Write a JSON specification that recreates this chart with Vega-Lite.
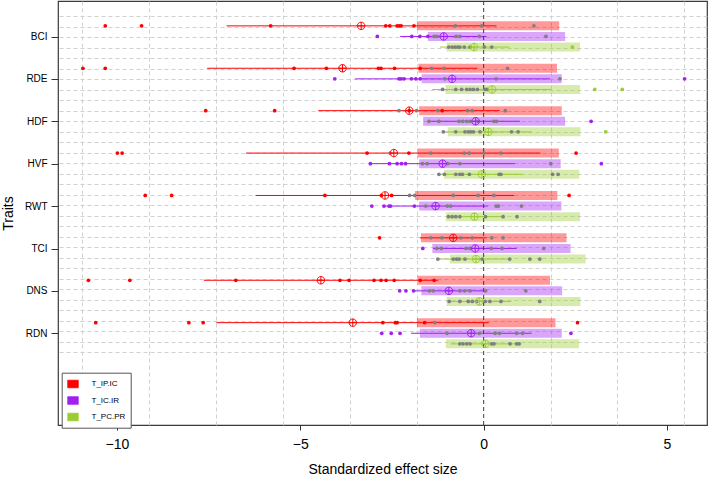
{
  "$schema": "https://vega.github.io/schema/vega-lite/v6.json",
  "width": 649,
  "height": 424,
  "autosize": {"type": "none"},
  "padding": {"left": 58, "top": 1, "right": 2, "bottom": 52},
  "background": "white",
  "config": {
    "font": "Liberation Sans",
    "view": {"stroke": "#3a3a3a", "strokeWidth": 1.2},
    "axis": {"labelColor": "#000", "titleColor": "#000", "tickColor": "#333", "labelFont": "Liberation Sans", "titleFont": "Liberation Sans", "titleFontWeight": "normal"}
  },
  "datasets": {
    "stats": [
      {"trait":"BCI","group":"T_IP.IC","blo":-1.82,"bhi":2.06,"slo":-7.01,"shi":0.35,"mean":-3.34},
      {"trait":"BCI","group":"T_IC.IR","blo":-1.52,"bhi":2.22,"slo":-2.28,"shi":0.08,"mean":-1.09},
      {"trait":"BCI","group":"T_PC.PR","blo":-1.01,"bhi":2.63,"slo":-1.19,"shi":0.70,"mean":-0.26},
      {"trait":"RDE","group":"T_IP.IC","blo":-1.78,"bhi":2.00,"slo":-7.54,"shi":-0.17,"mean":-3.85},
      {"trait":"RDE","group":"T_IC.IR","blo":-1.69,"bhi":2.13,"slo":-3.51,"shi":1.81,"mean":-0.86},
      {"trait":"RDE","group":"T_PC.PR","blo":-1.04,"bhi":2.63,"slo":-1.40,"shi":1.85,"mean":0.23},
      {"trait":"HDF","group":"T_IP.IC","blo":-1.76,"bhi":2.13,"slo":-4.51,"shi":0.44,"mean":-2.03},
      {"trait":"HDF","group":"T_IC.IR","blo":-1.65,"bhi":2.22,"slo":-1.43,"shi":0.99,"mean":-0.22},
      {"trait":"HDF","group":"T_PC.PR","blo":-0.98,"bhi":2.64,"slo":-1.05,"shi":1.31,"mean":0.13},
      {"trait":"HVF","group":"T_IP.IC","blo":-1.80,"bhi":2.05,"slo":-6.48,"shi":1.55,"mean":-2.45},
      {"trait":"HVF","group":"T_IC.IR","blo":-1.76,"bhi":2.10,"slo":-3.09,"shi":0.85,"mean":-1.12},
      {"trait":"HVF","group":"T_PC.PR","blo":-1.08,"bhi":2.61,"slo":-1.16,"shi":1.06,"mean":-0.05},
      {"trait":"RWT","group":"T_IP.IC","blo":-1.87,"bhi":2.01,"slo":-6.22,"shi":0.83,"mean":-2.69},
      {"trait":"RWT","group":"T_IC.IR","blo":-1.76,"bhi":2.12,"slo":-2.70,"shi":0.11,"mean":-1.31},
      {"trait":"RWT","group":"T_PC.PR","blo":-1.03,"bhi":2.63,"slo":-1.00,"shi":0.53,"mean":-0.25},
      {"trait":"TCI","group":"T_IP.IC","blo":-1.71,"bhi":2.26,"slo":-1.74,"shi":0.08,"mean":-0.83},
      {"trait":"TCI","group":"T_IC.IR","blo":-1.40,"bhi":2.37,"slo":-1.38,"shi":0.90,"mean":-0.23},
      {"trait":"TCI","group":"T_PC.PR","blo":-0.92,"bhi":2.78,"slo":-1.25,"shi":0.70,"mean":-0.21},
      {"trait":"DNS","group":"T_IP.IC","blo":-1.80,"bhi":1.81,"slo":-7.63,"shi":-1.24,"mean":-4.44},
      {"trait":"DNS","group":"T_IC.IR","blo":-1.70,"bhi":2.14,"slo":-1.95,"shi":0.10,"mean":-0.95},
      {"trait":"DNS","group":"T_PC.PR","blo":-1.01,"bhi":2.64,"slo":-0.95,"shi":0.75,"mean":-0.12},
      {"trait":"RDN","group":"T_IP.IC","blo":-1.82,"bhi":1.96,"slo":-7.29,"shi":0.14,"mean":-3.57},
      {"trait":"RDN","group":"T_IC.IR","blo":-1.74,"bhi":2.13,"slo":-1.98,"shi":1.31,"mean":-0.34},
      {"trait":"RDN","group":"T_PC.PR","blo":-1.03,"bhi":2.60,"slo":-0.90,"shi":0.99,"mean":0.05}
    ],
    "pts": [
      {"trait":"BCI","group":"T_IP.IC","value":-10.32,"sig":1},
      {"trait":"BCI","group":"T_IP.IC","value":-9.33,"sig":1},
      {"trait":"BCI","group":"T_IP.IC","value":-5.81,"sig":1},
      {"trait":"BCI","group":"T_IP.IC","value":-2.67,"sig":1},
      {"trait":"BCI","group":"T_IP.IC","value":-2.56,"sig":1},
      {"trait":"BCI","group":"T_IP.IC","value":-2.36,"sig":1},
      {"trait":"BCI","group":"T_IP.IC","value":-2.30,"sig":1},
      {"trait":"BCI","group":"T_IP.IC","value":-2.25,"sig":1},
      {"trait":"BCI","group":"T_IP.IC","value":-1.90,"sig":1},
      {"trait":"BCI","group":"T_IP.IC","value":-0.77,"sig":0},
      {"trait":"BCI","group":"T_IP.IC","value":-0.05,"sig":0},
      {"trait":"BCI","group":"T_IP.IC","value":1.37,"sig":0},
      {"trait":"BCI","group":"T_IC.IR","value":-2.90,"sig":1},
      {"trait":"BCI","group":"T_IC.IR","value":-1.96,"sig":1},
      {"trait":"BCI","group":"T_IC.IR","value":-1.74,"sig":1},
      {"trait":"BCI","group":"T_IC.IR","value":-1.52,"sig":1},
      {"trait":"BCI","group":"T_IC.IR","value":-1.35,"sig":0},
      {"trait":"BCI","group":"T_IC.IR","value":-1.27,"sig":0},
      {"trait":"BCI","group":"T_IC.IR","value":-0.75,"sig":0},
      {"trait":"BCI","group":"T_IC.IR","value":-0.65,"sig":0},
      {"trait":"BCI","group":"T_IC.IR","value":-0.12,"sig":0},
      {"trait":"BCI","group":"T_IC.IR","value":1.70,"sig":0},
      {"trait":"BCI","group":"T_PC.PR","value":-0.95,"sig":0},
      {"trait":"BCI","group":"T_PC.PR","value":-0.86,"sig":0},
      {"trait":"BCI","group":"T_PC.PR","value":-0.78,"sig":0},
      {"trait":"BCI","group":"T_PC.PR","value":-0.71,"sig":0},
      {"trait":"BCI","group":"T_PC.PR","value":-0.65,"sig":0},
      {"trait":"BCI","group":"T_PC.PR","value":-0.53,"sig":0},
      {"trait":"BCI","group":"T_PC.PR","value":-0.37,"sig":0},
      {"trait":"BCI","group":"T_PC.PR","value":0.02,"sig":0},
      {"trait":"BCI","group":"T_PC.PR","value":0.22,"sig":0},
      {"trait":"BCI","group":"T_PC.PR","value":2.42,"sig":1},
      {"trait":"RDE","group":"T_IP.IC","value":-10.93,"sig":1},
      {"trait":"RDE","group":"T_IP.IC","value":-10.32,"sig":1},
      {"trait":"RDE","group":"T_IP.IC","value":-5.17,"sig":1},
      {"trait":"RDE","group":"T_IP.IC","value":-4.29,"sig":1},
      {"trait":"RDE","group":"T_IP.IC","value":-2.87,"sig":1},
      {"trait":"RDE","group":"T_IP.IC","value":-2.80,"sig":1},
      {"trait":"RDE","group":"T_IP.IC","value":-2.43,"sig":1},
      {"trait":"RDE","group":"T_IP.IC","value":-1.73,"sig":1},
      {"trait":"RDE","group":"T_IP.IC","value":-1.42,"sig":0},
      {"trait":"RDE","group":"T_IP.IC","value":-1.08,"sig":0},
      {"trait":"RDE","group":"T_IP.IC","value":0.65,"sig":0},
      {"trait":"RDE","group":"T_IC.IR","value":-4.06,"sig":1},
      {"trait":"RDE","group":"T_IC.IR","value":-2.31,"sig":1},
      {"trait":"RDE","group":"T_IC.IR","value":-2.25,"sig":1},
      {"trait":"RDE","group":"T_IC.IR","value":-2.17,"sig":1},
      {"trait":"RDE","group":"T_IC.IR","value":-1.97,"sig":1},
      {"trait":"RDE","group":"T_IC.IR","value":-1.85,"sig":1},
      {"trait":"RDE","group":"T_IC.IR","value":-1.73,"sig":1},
      {"trait":"RDE","group":"T_IC.IR","value":5.48,"sig":1},
      {"trait":"RDE","group":"T_IC.IR","value":-1.06,"sig":0},
      {"trait":"RDE","group":"T_IC.IR","value":0.34,"sig":0},
      {"trait":"RDE","group":"T_IC.IR","value":2.08,"sig":0},
      {"trait":"RDE","group":"T_PC.PR","value":-1.12,"sig":0},
      {"trait":"RDE","group":"T_PC.PR","value":-0.76,"sig":0},
      {"trait":"RDE","group":"T_PC.PR","value":-0.60,"sig":0},
      {"trait":"RDE","group":"T_PC.PR","value":-0.46,"sig":0},
      {"trait":"RDE","group":"T_PC.PR","value":-0.37,"sig":0},
      {"trait":"RDE","group":"T_PC.PR","value":-0.28,"sig":0},
      {"trait":"RDE","group":"T_PC.PR","value":-0.17,"sig":0},
      {"trait":"RDE","group":"T_PC.PR","value":0.04,"sig":0},
      {"trait":"RDE","group":"T_PC.PR","value":0.10,"sig":0},
      {"trait":"RDE","group":"T_PC.PR","value":3.03,"sig":1},
      {"trait":"RDE","group":"T_PC.PR","value":3.78,"sig":1},
      {"trait":"HDF","group":"T_IP.IC","value":-7.58,"sig":1},
      {"trait":"HDF","group":"T_IP.IC","value":-5.70,"sig":1},
      {"trait":"HDF","group":"T_IP.IC","value":-2.03,"sig":1},
      {"trait":"HDF","group":"T_IP.IC","value":-1.13,"sig":1},
      {"trait":"HDF","group":"T_IP.IC","value":-2.31,"sig":0},
      {"trait":"HDF","group":"T_IP.IC","value":-1.83,"sig":0},
      {"trait":"HDF","group":"T_IP.IC","value":-1.25,"sig":0},
      {"trait":"HDF","group":"T_IP.IC","value":-0.44,"sig":0},
      {"trait":"HDF","group":"T_IP.IC","value":-0.31,"sig":0},
      {"trait":"HDF","group":"T_IP.IC","value":0.59,"sig":0},
      {"trait":"HDF","group":"T_IC.IR","value":-1.49,"sig":0},
      {"trait":"HDF","group":"T_IC.IR","value":-1.22,"sig":0},
      {"trait":"HDF","group":"T_IC.IR","value":-0.67,"sig":0},
      {"trait":"HDF","group":"T_IC.IR","value":-0.57,"sig":0},
      {"trait":"HDF","group":"T_IC.IR","value":-0.46,"sig":0},
      {"trait":"HDF","group":"T_IC.IR","value":-0.37,"sig":0},
      {"trait":"HDF","group":"T_IC.IR","value":-0.15,"sig":0},
      {"trait":"HDF","group":"T_IC.IR","value":0.28,"sig":0},
      {"trait":"HDF","group":"T_IC.IR","value":0.35,"sig":0},
      {"trait":"HDF","group":"T_IC.IR","value":2.93,"sig":1},
      {"trait":"HDF","group":"T_PC.PR","value":-1.10,"sig":0},
      {"trait":"HDF","group":"T_PC.PR","value":-0.76,"sig":0},
      {"trait":"HDF","group":"T_PC.PR","value":-0.51,"sig":0},
      {"trait":"HDF","group":"T_PC.PR","value":-0.42,"sig":0},
      {"trait":"HDF","group":"T_PC.PR","value":-0.35,"sig":0},
      {"trait":"HDF","group":"T_PC.PR","value":-0.28,"sig":0},
      {"trait":"HDF","group":"T_PC.PR","value":-0.10,"sig":0},
      {"trait":"HDF","group":"T_PC.PR","value":0.76,"sig":0},
      {"trait":"HDF","group":"T_PC.PR","value":0.94,"sig":0},
      {"trait":"HDF","group":"T_PC.PR","value":3.33,"sig":1},
      {"trait":"HVF","group":"T_IP.IC","value":-9.99,"sig":1},
      {"trait":"HVF","group":"T_IP.IC","value":-9.86,"sig":1},
      {"trait":"HVF","group":"T_IP.IC","value":-3.18,"sig":1},
      {"trait":"HVF","group":"T_IP.IC","value":-2.04,"sig":1},
      {"trait":"HVF","group":"T_IP.IC","value":2.52,"sig":1},
      {"trait":"HVF","group":"T_IP.IC","value":-2.55,"sig":0},
      {"trait":"HVF","group":"T_IP.IC","value":-1.44,"sig":0},
      {"trait":"HVF","group":"T_IP.IC","value":-0.53,"sig":0},
      {"trait":"HVF","group":"T_IP.IC","value":-0.39,"sig":0},
      {"trait":"HVF","group":"T_IP.IC","value":0.01,"sig":0},
      {"trait":"HVF","group":"T_IP.IC","value":0.47,"sig":0},
      {"trait":"HVF","group":"T_IC.IR","value":-3.09,"sig":1},
      {"trait":"HVF","group":"T_IC.IR","value":-2.57,"sig":1},
      {"trait":"HVF","group":"T_IC.IR","value":-2.36,"sig":1},
      {"trait":"HVF","group":"T_IC.IR","value":-2.24,"sig":1},
      {"trait":"HVF","group":"T_IC.IR","value":-2.13,"sig":1},
      {"trait":"HVF","group":"T_IC.IR","value":3.21,"sig":1},
      {"trait":"HVF","group":"T_IC.IR","value":-1.67,"sig":0},
      {"trait":"HVF","group":"T_IC.IR","value":-1.54,"sig":0},
      {"trait":"HVF","group":"T_IC.IR","value":-0.98,"sig":0},
      {"trait":"HVF","group":"T_IC.IR","value":-0.65,"sig":0},
      {"trait":"HVF","group":"T_IC.IR","value":1.83,"sig":0},
      {"trait":"HVF","group":"T_PC.PR","value":-1.22,"sig":0},
      {"trait":"HVF","group":"T_PC.PR","value":-1.07,"sig":0},
      {"trait":"HVF","group":"T_PC.PR","value":-0.76,"sig":0},
      {"trait":"HVF","group":"T_PC.PR","value":-0.65,"sig":0},
      {"trait":"HVF","group":"T_PC.PR","value":-0.58,"sig":0},
      {"trait":"HVF","group":"T_PC.PR","value":-0.39,"sig":0},
      {"trait":"HVF","group":"T_PC.PR","value":0.42,"sig":0},
      {"trait":"HVF","group":"T_PC.PR","value":0.47,"sig":0},
      {"trait":"HVF","group":"T_PC.PR","value":1.88,"sig":0},
      {"trait":"HVF","group":"T_PC.PR","value":2.03,"sig":0},
      {"trait":"RWT","group":"T_IP.IC","value":-9.23,"sig":1},
      {"trait":"RWT","group":"T_IP.IC","value":-8.51,"sig":1},
      {"trait":"RWT","group":"T_IP.IC","value":-4.33,"sig":1},
      {"trait":"RWT","group":"T_IP.IC","value":-2.79,"sig":1},
      {"trait":"RWT","group":"T_IP.IC","value":-2.51,"sig":1},
      {"trait":"RWT","group":"T_IP.IC","value":2.33,"sig":1},
      {"trait":"RWT","group":"T_IP.IC","value":-2.02,"sig":0},
      {"trait":"RWT","group":"T_IP.IC","value":-1.88,"sig":0},
      {"trait":"RWT","group":"T_IP.IC","value":-0.83,"sig":0},
      {"trait":"RWT","group":"T_IP.IC","value":-0.15,"sig":0},
      {"trait":"RWT","group":"T_IP.IC","value":0.28,"sig":0},
      {"trait":"RWT","group":"T_IC.IR","value":-3.05,"sig":1},
      {"trait":"RWT","group":"T_IC.IR","value":-2.72,"sig":1},
      {"trait":"RWT","group":"T_IC.IR","value":-2.58,"sig":1},
      {"trait":"RWT","group":"T_IC.IR","value":-2.54,"sig":1},
      {"trait":"RWT","group":"T_IC.IR","value":-1.89,"sig":1},
      {"trait":"RWT","group":"T_IC.IR","value":-1.58,"sig":0},
      {"trait":"RWT","group":"T_IC.IR","value":-0.99,"sig":0},
      {"trait":"RWT","group":"T_IC.IR","value":-0.90,"sig":0},
      {"trait":"RWT","group":"T_IC.IR","value":0.34,"sig":0},
      {"trait":"RWT","group":"T_IC.IR","value":0.40,"sig":0},
      {"trait":"RWT","group":"T_IC.IR","value":1.03,"sig":0},
      {"trait":"RWT","group":"T_PC.PR","value":-0.96,"sig":0},
      {"trait":"RWT","group":"T_PC.PR","value":-0.86,"sig":0},
      {"trait":"RWT","group":"T_PC.PR","value":-0.76,"sig":0},
      {"trait":"RWT","group":"T_PC.PR","value":-0.65,"sig":0},
      {"trait":"RWT","group":"T_PC.PR","value":0.05,"sig":0},
      {"trait":"RWT","group":"T_PC.PR","value":0.53,"sig":0},
      {"trait":"RWT","group":"T_PC.PR","value":0.91,"sig":0},
      {"trait":"TCI","group":"T_IP.IC","value":-2.84,"sig":1},
      {"trait":"TCI","group":"T_IP.IC","value":-1.44,"sig":0},
      {"trait":"TCI","group":"T_IP.IC","value":-1.14,"sig":0},
      {"trait":"TCI","group":"T_IP.IC","value":-0.62,"sig":0},
      {"trait":"TCI","group":"T_IP.IC","value":-0.31,"sig":0},
      {"trait":"TCI","group":"T_IP.IC","value":0.22,"sig":0},
      {"trait":"TCI","group":"T_IP.IC","value":0.53,"sig":0},
      {"trait":"TCI","group":"T_IC.IR","value":-1.66,"sig":1},
      {"trait":"TCI","group":"T_IC.IR","value":-1.28,"sig":0},
      {"trait":"TCI","group":"T_IC.IR","value":-1.15,"sig":0},
      {"trait":"TCI","group":"T_IC.IR","value":-0.48,"sig":0},
      {"trait":"TCI","group":"T_IC.IR","value":-0.37,"sig":0},
      {"trait":"TCI","group":"T_IC.IR","value":0.21,"sig":0},
      {"trait":"TCI","group":"T_IC.IR","value":0.50,"sig":0},
      {"trait":"TCI","group":"T_IC.IR","value":1.64,"sig":0},
      {"trait":"TCI","group":"T_PC.PR","value":-1.25,"sig":0},
      {"trait":"TCI","group":"T_PC.PR","value":-0.83,"sig":0},
      {"trait":"TCI","group":"T_PC.PR","value":-0.74,"sig":0},
      {"trait":"TCI","group":"T_PC.PR","value":-0.67,"sig":0},
      {"trait":"TCI","group":"T_PC.PR","value":-0.51,"sig":0},
      {"trait":"TCI","group":"T_PC.PR","value":-0.04,"sig":0},
      {"trait":"TCI","group":"T_PC.PR","value":0.71,"sig":0},
      {"trait":"TCI","group":"T_PC.PR","value":1.26,"sig":0},
      {"trait":"TCI","group":"T_PC.PR","value":1.53,"sig":0},
      {"trait":"DNS","group":"T_IP.IC","value":-10.78,"sig":1},
      {"trait":"DNS","group":"T_IP.IC","value":-9.65,"sig":1},
      {"trait":"DNS","group":"T_IP.IC","value":-6.76,"sig":1},
      {"trait":"DNS","group":"T_IP.IC","value":-3.92,"sig":1},
      {"trait":"DNS","group":"T_IP.IC","value":-3.67,"sig":1},
      {"trait":"DNS","group":"T_IP.IC","value":-2.99,"sig":1},
      {"trait":"DNS","group":"T_IP.IC","value":-2.80,"sig":1},
      {"trait":"DNS","group":"T_IP.IC","value":-2.66,"sig":1},
      {"trait":"DNS","group":"T_IP.IC","value":-2.44,"sig":1},
      {"trait":"DNS","group":"T_IP.IC","value":-1.73,"sig":1},
      {"trait":"DNS","group":"T_IP.IC","value":-1.35,"sig":1},
      {"trait":"DNS","group":"T_IC.IR","value":-2.29,"sig":1},
      {"trait":"DNS","group":"T_IC.IR","value":-2.12,"sig":1},
      {"trait":"DNS","group":"T_IC.IR","value":-1.91,"sig":1},
      {"trait":"DNS","group":"T_IC.IR","value":-1.48,"sig":0},
      {"trait":"DNS","group":"T_IC.IR","value":-1.37,"sig":0},
      {"trait":"DNS","group":"T_IC.IR","value":-0.65,"sig":0},
      {"trait":"DNS","group":"T_IC.IR","value":-0.52,"sig":0},
      {"trait":"DNS","group":"T_IC.IR","value":-0.37,"sig":0},
      {"trait":"DNS","group":"T_IC.IR","value":0.05,"sig":0},
      {"trait":"DNS","group":"T_IC.IR","value":1.15,"sig":0},
      {"trait":"DNS","group":"T_PC.PR","value":-0.94,"sig":0},
      {"trait":"DNS","group":"T_PC.PR","value":-0.65,"sig":0},
      {"trait":"DNS","group":"T_PC.PR","value":-0.42,"sig":0},
      {"trait":"DNS","group":"T_PC.PR","value":-0.31,"sig":0},
      {"trait":"DNS","group":"T_PC.PR","value":-0.19,"sig":0},
      {"trait":"DNS","group":"T_PC.PR","value":0.04,"sig":0},
      {"trait":"DNS","group":"T_PC.PR","value":0.17,"sig":0},
      {"trait":"DNS","group":"T_PC.PR","value":0.47,"sig":0},
      {"trait":"DNS","group":"T_PC.PR","value":1.53,"sig":0},
      {"trait":"RDN","group":"T_IP.IC","value":-10.58,"sig":1},
      {"trait":"RDN","group":"T_IP.IC","value":-8.04,"sig":1},
      {"trait":"RDN","group":"T_IP.IC","value":-7.65,"sig":1},
      {"trait":"RDN","group":"T_IP.IC","value":-2.75,"sig":1},
      {"trait":"RDN","group":"T_IP.IC","value":-2.41,"sig":1},
      {"trait":"RDN","group":"T_IP.IC","value":-2.36,"sig":1},
      {"trait":"RDN","group":"T_IP.IC","value":-1.61,"sig":1},
      {"trait":"RDN","group":"T_IP.IC","value":2.56,"sig":1},
      {"trait":"RDN","group":"T_IP.IC","value":-1.33,"sig":0},
      {"trait":"RDN","group":"T_IC.IR","value":-2.78,"sig":1},
      {"trait":"RDN","group":"T_IC.IR","value":-2.52,"sig":1},
      {"trait":"RDN","group":"T_IC.IR","value":-2.28,"sig":1},
      {"trait":"RDN","group":"T_IC.IR","value":2.38,"sig":1},
      {"trait":"RDN","group":"T_IC.IR","value":-1.00,"sig":0},
      {"trait":"RDN","group":"T_IC.IR","value":-0.12,"sig":0},
      {"trait":"RDN","group":"T_IC.IR","value":0.31,"sig":0},
      {"trait":"RDN","group":"T_IC.IR","value":0.43,"sig":0},
      {"trait":"RDN","group":"T_IC.IR","value":0.90,"sig":0},
      {"trait":"RDN","group":"T_IC.IR","value":1.06,"sig":0},
      {"trait":"RDN","group":"T_PC.PR","value":-0.65,"sig":0},
      {"trait":"RDN","group":"T_PC.PR","value":-0.56,"sig":0},
      {"trait":"RDN","group":"T_PC.PR","value":-0.46,"sig":0},
      {"trait":"RDN","group":"T_PC.PR","value":-0.37,"sig":0},
      {"trait":"RDN","group":"T_PC.PR","value":0.22,"sig":0},
      {"trait":"RDN","group":"T_PC.PR","value":0.28,"sig":0},
      {"trait":"RDN","group":"T_PC.PR","value":0.72,"sig":0},
      {"trait":"RDN","group":"T_PC.PR","value":0.90,"sig":0},
      {"trait":"RDN","group":"T_PC.PR","value":0.97,"sig":0}
    ]
  },
  "layer": [
    {
      "data": {"values": [{}]},
      "mark": {"type": "point", "opacity": 0},
      "encoding": {
        "x": {"datum": 0, "type": "quantitative",
          "scale": {"domain": [-11.609, 6.091], "nice": false, "zero": false},
          "axis": {"orient": "top", "values": [-10.946, -9.121, -7.297, -5.473, -3.649, -1.824, 1.824, 3.649, 5.473], "grid": true, "gridColor": "#cccccc", "gridDash": [4, 3], "gridWidth": 0.9, "labels": false, "ticks": false, "domain": false, "title": null}},
        "y": {"datum": 0, "type": "quantitative",
          "scale": {"domain": [-1.427, 38.915], "reverse": true, "nice": false, "zero": false},
          "axis": {"orient": "right", "values": [0,1,2,3,4,5,6,7,8,9,10,11,12,13,14,15,16,17,18,19,20,21,22,23,24,25,26,27,28,29,30,31,32], "grid": true, "gridColor": "#cccccc", "gridDash": [4, 3], "gridWidth": 0.9, "labels": false, "ticks": false, "domain": false, "title": null}}
      }
    },
    {
      "layer": [
        {
          "data": {"name": "stats"},
          "mark": {"type": "bar", "size": 9, "opacity": 0.4},
          "encoding": {
            "x": {"field": "blo", "type": "quantitative",
              "scale": {"domain": [-11.609, 6.091], "nice": false, "zero": false},
              "axis": {"orient": "bottom", "values": [-10, -5, 0, 5], "title": "Standardized effect size", "grid": false, "domain": false, "tickSize": 5, "tickColor": "#333", "labelFontSize": 14, "labelPadding": 7, "titleFontSize": 14, "titlePadding": 11, "labelFlush": false}},
            "x2": {"field": "bhi"},
            "y": {"field": "trait", "type": "nominal",
              "scale": {"domain": ["BCI","RDE","HDF","HVF","RWT","TCI","DNS","RDN"], "paddingInner": 0, "paddingOuter": 1.0438, "align": 0.2307},
              "axis": {"title": "Traits", "tickOffset": -5.25, "tickSize": 7, "labelFontSize": 10, "labelPadding": 4, "domain": false, "grid": false, "titleFontSize": 14, "titlePadding": 9}},
            "yOffset": {"field": "group", "type": "nominal", "scale": {"domain": ["T_IP.IC","T_IC.IR","T_PC.PR","sep"], "paddingInner": 0, "paddingOuter": 0}},
            "color": {"field": "group", "type": "nominal",
              "scale": {"domain": ["T_IP.IC","T_IC.IR","T_PC.PR"], "range": ["#FF0000", "#A020F0", "#9ACD32"]},
              "legend": {"orient": "none", "legendX": 3.7, "legendY": 371.7, "title": null, "direction": "vertical",
                "symbolType": "M-1,-0.72L1,-0.72L1,0.72L-1,0.72Z", "symbolSize": 110, "symbolStrokeColor": "#000", "symbolStrokeWidth": 0.8, "symbolOpacity": 1,
                "labelFontSize": 8, "labelFont": "Liberation Sans", "labelColor": "#000", "labelOffset": 12.5, "rowPadding": 4.5, "padding": 5.3,
                "strokeColor": "#555", "fillColor": "#ffffff",
                "labelExpr": "datum.label + '\u00a0\u00a0\u00a0\u00a0\u00a0\u00a0\u00a0\u00a0\u00a0'"}}
          }
        },
        {
          "data": {"name": "stats"},
          "mark": {"type": "rule", "strokeWidth": 1},
          "encoding": {
            "x": {"field": "slo", "type": "quantitative"},
            "x2": {"field": "shi"},
            "y": {"field": "trait", "type": "nominal"},
            "yOffset": {"field": "group", "type": "nominal"},
            "color": {"field": "group", "type": "nominal", "legend": null}
          }
        },
        {
          "data": {"values": [{}]},
          "mark": {"type": "rule", "color": "#3c3c3c", "strokeDash": [4, 3], "strokeWidth": 1},
          "encoding": {"x": {"datum": 0, "type": "quantitative"}}
        },
        {
          "data": {"name": "pts"},
          "mark": {"type": "circle", "size": 14, "opacity": 1},
          "encoding": {
            "x": {"field": "value", "type": "quantitative"},
            "y": {"field": "trait", "type": "nominal"},
            "yOffset": {"field": "group", "type": "nominal"},
            "color": {"condition": {"test": "datum.sig == 1", "field": "group", "type": "nominal", "legend": null}, "value": "#808080"}
          }
        },
        {
          "data": {"name": "stats"},
          "mark": {"type": "point", "shape": "M-1,0A1,1,0,1,0,1,0A1,1,0,1,0,-1,0M-1,0L1,0M0,-1L0,1", "filled": false, "strokeWidth": 1, "size": 56, "opacity": 1},
          "encoding": {
            "x": {"field": "mean", "type": "quantitative"},
            "y": {"field": "trait", "type": "nominal"},
            "yOffset": {"field": "group", "type": "nominal"},
            "color": {"field": "group", "type": "nominal", "legend": null}
          }
        }
      ]
    }
  ],
  "resolve": {"scale": {"y": "independent"}, "axis": {"x": "independent", "y": "independent"}}
}
